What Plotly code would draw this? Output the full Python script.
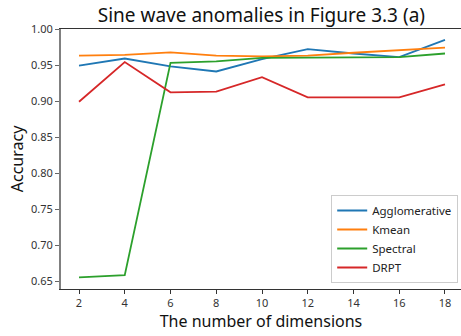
import plotly.graph_objects as go

dims = [2, 4, 6, 8, 10, 12, 14, 16, 18]
agglomerative = [0.949, 0.959, 0.948, 0.941, 0.958, 0.972, 0.966, 0.961, 0.985]
kmean = [0.963, 0.964, 0.9675, 0.963, 0.962, 0.963, 0.967, 0.971, 0.974]
spectral = [0.655, 0.658, 0.953, 0.955, 0.960, 0.960, 0.961, 0.961, 0.966]
drpt = [0.899, 0.954, 0.912, 0.913, 0.933, 0.905, 0.905, 0.905, 0.923]

series = [("Agglomerative", agglomerative, "#1f77b4"),
          ("Kmean", kmean, "#ff7f0e"),
          ("Spectral", spectral, "#2ca02c"),
          ("DRPT", drpt, "#d62728")]

font = "Noto Sans, Open Sans, DejaVu Sans, sans-serif"

fig = go.Figure()
for name, vals, col in series:
    fig.add_trace(go.Scatter(x=dims, y=vals, mode="lines", name=name,
                             line=dict(color=col, width=1.8)))

fig.update_layout(
    width=461, height=336,
    margin=dict(l=61, r=0, t=29, b=47),
    paper_bgcolor="white", plot_bgcolor="white",
    font=dict(family=font, color="#222"),
    title=dict(text="Sine wave anomalies in Figure 3.3 (a)", x=0.567, xanchor="center",
               y=0.955, yanchor="middle", font=dict(size=19, color="#111")),
    showlegend=True,
    legend=dict(x=0.993, xanchor="right", y=0.023, yanchor="bottom",
                bgcolor="white", bordercolor="#cccccc", borderwidth=1,
                font=dict(size=11.5, color="#222"), tracegroupgap=0,
                itemwidth=30),
)
fig.update_xaxes(range=[1.213, 18.70], tickvals=dims, ticks="outside", ticklen=4,
                 tickcolor="#333", showline=True, linecolor="#333", linewidth=1.2,
                 mirror=True, showgrid=False, zeroline=False,
                 tickfont=dict(size=11, color="#333"),
                 title=dict(text="The number of dimensions", font=dict(size=16, color="#111"),
                            standoff=5))
fig.update_yaxes(range=[0.6389, 1.0], tickvals=[0.65, 0.70, 0.75, 0.80, 0.85, 0.90, 0.95, 1.00],
                 tickformat=".2f", ticks="outside", ticklen=4, tickcolor="#666",
                 showline=True, linecolor="#808080", linewidth=2, showgrid=False,
                 zeroline=False, tickfont=dict(size=11, color="#333"),
                 title=dict(text="Accuracy", font=dict(size=16, color="#111"), standoff=3))

fig.write_html("out.html")
